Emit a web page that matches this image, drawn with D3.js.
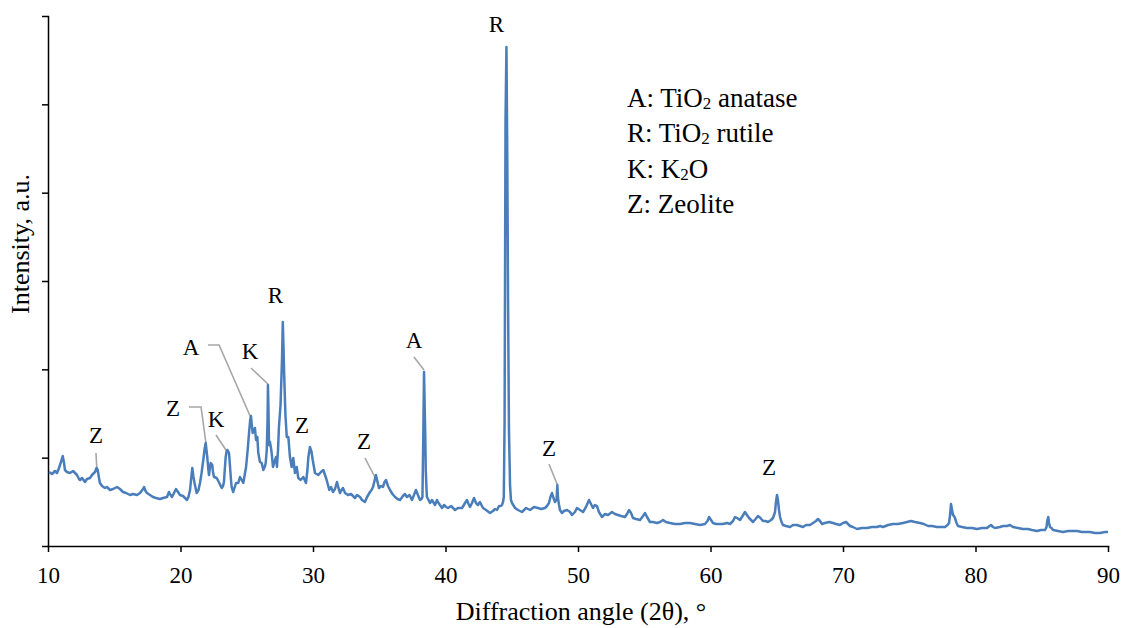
<!DOCTYPE html>
<html>
<head>
<meta charset="utf-8">
<script src="https://cdn.jsdelivr.net/npm/d3@7/dist/d3.min.js"></script>
<style>
    body { margin: 0; background: #fff; }
    svg { display: block; font-family: "Liberation Serif", "Times New Roman", serif; }
    .axis path, .axis line { stroke: #000; stroke-width: 1.5; }
    .axis text { font-family: "Liberation Serif", serif; font-size: 23px; fill: #000; }
    .pattern { fill: none; stroke: #4a7ebb; stroke-width: 2.5; stroke-linejoin: round; }
    .leader { fill: none; stroke: #a6a6a6; stroke-width: 1.6; }
    .peakLabel { font-size: 23px; fill: #000; text-anchor: middle; }
    .legend { font-size: 27px; fill: #000; }
    .title { font-size: 26px; fill: #000; }
</style>
</head>
<body onload="init()">
<div id="chart"></div>
<script>

var X_TICKS = [10, 20, 30, 40, 50, 60, 70, 80, 90];
var Y_TICKS = [0, 88.33, 176.67, 265, 353.33, 441.67, 530];

/* diffraction angle (2 theta) and intensity (a.u.) */
var PATTERN = [
    [10.08,74],[10.30,72],[10.53,75],[10.68,73],[10.83,78],[10.98,84],[11.11,90],[11.21,83],[11.28,76],[11.43,74],
    [11.66,73],[11.89,75],[12.19,71],[12.34,67],[12.42,66],[12.57,68],[12.79,64],[12.94,67],[13.17,68],[13.32,71],
    [13.47,73],[13.55,74],[13.66,78],[13.75,76],[13.85,68],[13.92,63],[14.08,60],[14.30,58],[14.45,59],[14.68,56],
    [14.91,57],[15.21,59],[15.43,57],[15.66,54],[15.89,53],[16.19,51],[16.42,52],[16.72,51],[16.94,53],[17.17,57],
    [17.25,59],[17.36,55],[17.47,53],[17.70,51],[17.92,49],[18.15,48],[18.45,47],[18.68,48],[18.98,49],[19.13,54],
    [19.25,51],[19.36,49],[19.51,53],[19.66,57],[19.81,54],[19.96,51],[20.19,50],[20.34,48],[20.49,46],[20.60,49],
    [20.72,56],[20.81,68],[20.89,78],[20.98,69],[21.06,63],[21.22,53],[21.36,56],[21.47,63],[21.58,72],[21.65,79],
    [21.72,86],[21.81,96],[21.90,103],[21.96,96],[22.02,89],[22.09,78],[22.15,71],[22.23,79],[22.28,83],[22.40,81],
    [22.45,74],[22.53,69],[22.73,68],[22.93,63],[23.11,58],[23.21,60],[23.28,64],[23.34,76],[23.41,89],[23.47,94],
    [23.53,96],[23.58,95],[23.66,93],[23.74,79],[23.81,66],[23.86,59],[23.98,54],[24.19,63],[24.36,63],[24.49,69],
    [24.62,66],[24.74,63],[24.87,73],[24.94,78],[25.02,89],[25.07,96],[25.19,116],[25.26,126],[25.32,130],[25.38,121],
    [25.45,113],[25.55,116],[25.62,118],[25.70,106],[25.80,109],[25.87,93],[26.00,84],[26.13,83],[26.25,76],[26.38,80],
    [26.43,83],[26.51,96],[26.57,126],[26.60,161],[26.64,136],[26.68,101],[26.75,104],[26.83,98],[26.88,93],[26.98,79],
    [27.09,84],[27.21,89],[27.28,79],[27.36,96],[27.43,119],[27.55,141],[27.66,186],[27.72,224],[27.77,201],[27.83,169],
    [27.92,131],[28.02,109],[28.14,109],[28.26,89],[28.39,79],[28.51,88],[28.64,73],[28.77,79],[28.89,68],[29.07,66],
    [29.27,69],[29.47,63],[29.58,76],[29.65,89],[29.77,99],[29.89,94],[29.98,86],[30.15,73],[30.40,71],[30.60,74],
    [30.78,76],[31.03,66],[31.23,56],[31.36,59],[31.51,54],[31.66,57],[31.81,64],[31.92,58],[32.04,53],[32.15,56],
    [32.26,58],[32.42,53],[32.64,51],[32.87,52],[33.17,48],[33.32,51],[33.55,49],[33.70,46],[33.92,44],[34.08,49],
    [34.30,54],[34.42,56],[34.53,59],[34.64,65],[34.75,71],[34.87,64],[34.98,58],[35.13,60],[35.28,59],[35.40,64],
    [35.51,66],[35.66,60],[35.81,56],[36.00,52],[36.19,49],[36.38,47],[36.57,46],[36.79,50],[36.94,52],[37.09,49],
    [37.28,51],[37.47,46],[37.62,51],[37.77,56],[37.92,51],[38.08,46],[38.19,47],[38.26,49],[38.32,106],[38.38,174],
    [38.42,146],[38.47,113],[38.51,76],[38.57,56],[38.60,49],[38.72,46],[38.83,43],[38.98,46],[39.21,41],[39.36,46],
    [39.43,44],[39.58,41],[39.74,38],[39.89,41],[40.04,39],[40.19,38],[40.42,40],[40.72,36],[40.94,38],[41.25,38],
    [41.43,42],[41.62,46],[41.74,42],[41.85,39],[42.00,43],[42.15,48],[42.30,43],[42.45,41],[42.60,44],[42.83,38],
    [43.06,36],[43.36,33],[43.58,35],[43.74,37],[43.89,36],[44.04,40],[44.19,40],[44.26,41],[44.34,44],[44.40,49],
    [44.46,126],[44.53,426],[44.60,499],[44.66,396],[44.72,246],[44.79,116],[44.87,61],[44.94,46],[45.02,43],[45.25,38],
    [45.47,36],[45.77,34],[46.08,38],[46.38,36],[46.68,39],[46.98,38],[47.21,37],[47.51,38],[47.66,40],[47.81,43],
    [47.92,49],[48.04,53],[48.15,48],[48.26,44],[48.38,46],[48.44,61],[48.49,48],[48.57,41],[48.64,36],[48.79,33],
    [48.94,35],[49.17,36],[49.40,34],[49.55,31],[49.77,34],[49.92,38],[50.15,36],[50.38,34],[50.60,39],[50.83,46],
    [50.98,42],[51.13,38],[51.28,41],[51.43,40],[51.58,34],[51.81,29],[52.04,32],[52.26,31],[52.57,34],[52.79,32],
    [53.02,31],[53.25,30],[53.55,29],[53.70,32],[53.85,36],[54.00,33],[54.15,28],[54.38,27],[54.68,26],[54.91,30],
    [55.06,33],[55.21,29],[55.43,24],[55.66,24],[55.96,23],[56.19,24],[56.42,26],[56.64,24],[56.94,23],[57.32,22],
    [57.70,22],[58.08,23],[58.45,23],[58.83,22],[59.21,21],[59.58,22],[59.77,25],[59.89,29],[60.04,26],[60.19,23],
    [60.42,22],[60.72,22],[60.94,22],[61.25,23],[61.47,22],[61.70,25],[61.85,29],[62.00,28],[62.23,26],[62.42,30],
    [62.60,34],[62.75,31],[62.91,28],[63.06,26],[63.21,24],[63.40,27],[63.58,30],[63.77,28],[63.96,25],[64.15,25],
    [64.34,24],[64.57,26],[64.72,28],[64.87,34],[64.94,44],[65.02,51],[65.09,46],[65.17,36],[65.25,29],[65.36,24],
    [65.47,21],[65.70,20],[66.00,19],[66.23,21],[66.53,21],[66.75,20],[66.98,19],[67.21,21],[67.51,21],[67.74,23],
    [67.96,25],[68.11,27],[68.26,25],[68.42,22],[68.64,23],[68.94,24],[69.25,23],[69.47,22],[69.77,21],[70.00,23],
    [70.23,24],[70.38,22],[70.53,20],[70.75,19],[71.06,17],[71.43,18],[71.81,18],[72.19,19],[72.57,19],[72.79,20],
    [73.02,19],[73.40,21],[73.77,22],[74.15,22],[74.53,23],[74.83,24],[75.13,25],[75.43,24],[75.81,23],[76.11,22],
    [76.42,20],[76.72,20],[77.09,19],[77.40,19],[77.70,19],[77.89,21],[78.00,23],[78.08,31],[78.15,42],[78.23,36],
    [78.30,31],[78.38,30],[78.45,28],[78.57,23],[78.68,20],[78.98,19],[79.36,18],[79.74,18],[80.11,17],[80.49,18],
    [80.87,18],[81.06,20],[81.17,21],[81.32,19],[81.47,18],[81.85,19],[82.08,20],[82.38,20],[82.60,21],[82.83,19],
    [83.21,18],[83.58,17],[83.96,17],[84.26,16],[84.64,15],[84.94,16],[85.25,16],[85.36,19],[85.43,26],[85.49,29],
    [85.55,23],[85.62,19],[85.74,18],[85.85,16],[86.23,15],[86.60,14],[86.98,15],[87.36,15],[87.66,15],[88.04,14],
    [88.34,14],[88.64,14],[89.02,13],[89.40,13],[89.77,14],[90.00,14]
];

/* phase marks: letter, label anchor (angle, intensity) and optional leader line */
var PEAK_LABELS = [
    {text: "Z", at: [13.62, 103], leader: [[13.62, 93], [13.70, 74]]},
    {text: "Z", at: [19.43, 130], leader: [[20.64, 139], [21.55, 139], [21.92, 103]]},
    {text: "K", at: [22.68, 119], leader: [[22.68, 111], [23.58, 93]]},
    {text: "A", at: [20.79, 191], leader: [[22.08, 201], [22.91, 201], [25.32, 128]]},
    {text: "K", at: [25.25, 187], leader: [[25.32, 178], [26.60, 162]]},
    {text: "R", at: [27.17, 243], leader: null},
    {text: "Z", at: [29.17, 113], leader: null},
    {text: "Z", at: [33.85, 97], leader: [[33.92, 88], [34.75, 67]]},
    {text: "A", at: [37.62, 198], leader: [[37.62, 189], [38.38, 176]]},
    {text: "R", at: [43.85, 514], leader: null},
    {text: "Z", at: [47.81, 90], leader: [[47.81, 82], [48.42, 62]]},
    {text: "Z", at: [64.42, 71], leader: null}
];

/* odd pieces are subscripts */
var LEGEND_LINES = [
    ["A: TiO", "2", " anatase"],
    ["R: TiO", "2", " rutile"],
    ["K: K", "2", "O"],
    ["Z: Zeolite"]
];

var X_TITLE = "Diffraction angle (2\u03b8), \u00b0";
var Y_TITLE = "Intensity, a.u.";

function init(){
    var svg = d3.select("#chart").append("svg").attr("width", 1121).attr("height", 628);
    var margin = {top: 16, right: 13, bottom: 82, left: 48};
    var width = svg.attr("width") - margin.left - margin.right;
    var height = svg.attr("height") - margin.top - margin.bottom;
    var g = svg.append("g").attr("transform", "translate(" + margin.left + "," + margin.top + ")");

    var x = d3.scaleLinear().domain([10, 90]).range([0, width]);
    var y = d3.scaleLinear().domain([0, 530]).range([height, 0]);

    /* axes */
    g.append("g")
        .attr("class", "axis axis--y")
        .call(d3.axisLeft(y).tickValues(Y_TICKS).tickSize(6).tickSizeOuter(0).tickFormat(""));

    g.append("g")
        .attr("class", "axis axis--x")
        .attr("transform", "translate(0," + height + ")")
        .call(d3.axisBottom(x).tickValues(X_TICKS).tickSize(6).tickSizeOuter(0).tickPadding(15).tickFormat(d3.format("d")));

    g.selectAll(".axis path").attr("stroke-linecap", "square");

    /* leader lines */
    var leaderLine = d3.line()
        .x(function(d){ return x(d[0]); })
        .y(function(d){ return y(d[1]); });

    g.selectAll(".leader")
        .data(PEAK_LABELS.filter(function(p){ return p.leader; }))
        .enter().append("path")
        .attr("class", "leader")
        .attr("d", function(p){ return leaderLine(p.leader); });

    /* pattern */
    var patternLine = d3.line()
        .x(function(d){ return x(d[0]); })
        .y(function(d){ return y(d[1]); });

    g.append("path")
        .attr("class", "pattern")
        .attr("d", patternLine(PATTERN));

    /* peak letters */
    g.selectAll(".peakLabel")
        .data(PEAK_LABELS)
        .enter().append("text")
        .attr("class", "peakLabel")
        .attr("x", function(p){ return x(p.at[0]); })
        .attr("y", function(p){ return y(p.at[1]); })
        .text(function(p){ return p.text; });

    /* legend box */
    var legend = g.append("g").attr("transform", "translate(" + (627 - margin.left) + "," + (107 - margin.top) + ")");
    LEGEND_LINES.forEach(function(pieces, i){
        var t = legend.append("text")
            .attr("class", "legend")
            .attr("x", 0)
            .attr("y", i * 35.3);
        pieces.forEach(function(piece, j){
            if (j % 2 == 1){
                t.append("tspan").attr("font-size", "17px").attr("dy", 2).text(piece);
            } else {
                t.append("tspan").attr("dy", j == 0 ? 0 : -2).text(piece);
            }
        });
    });

    /* titles */
    svg.append("text")
        .attr("class", "title")
        .attr("text-anchor", "middle")
        .attr("x", margin.left + width / 2 + 3)
        .attr("y", 620)
        .text(X_TITLE);

    svg.append("text")
        .attr("class", "title")
        .attr("text-anchor", "middle")
        .attr("transform", "translate(29," + 244 + ") rotate(-90)")
        .text(Y_TITLE);
}
</script>
</body>
</html>
